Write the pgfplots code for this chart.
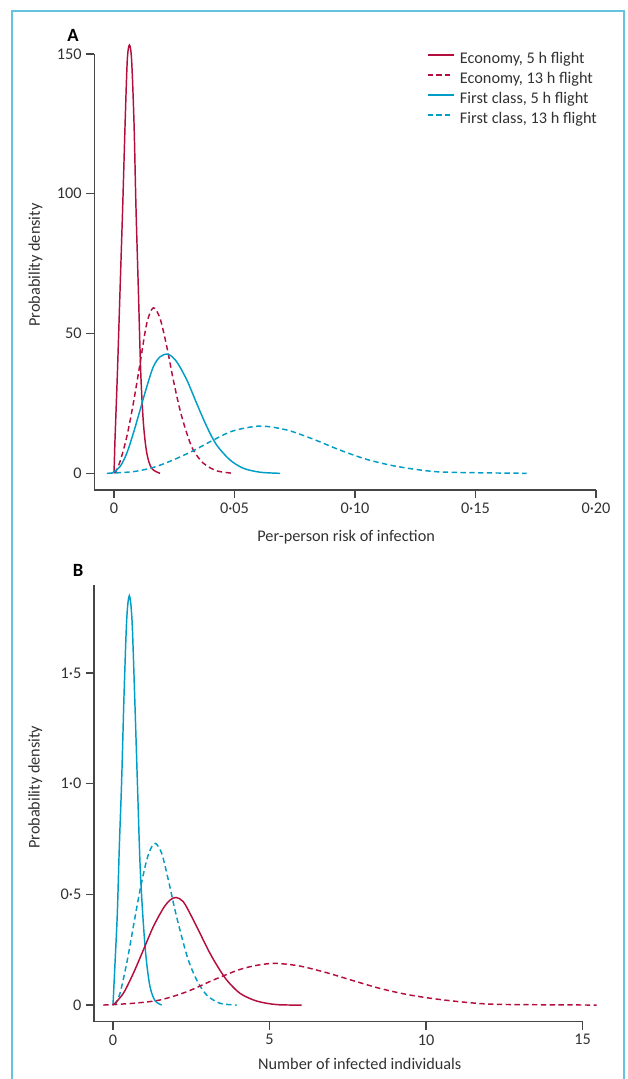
\documentclass[border=0pt]{standalone}
\usepackage{fontspec}
\setmainfont{Carlito}
\usepackage{pgfplots}
\pgfplotsset{compat=1.18}

\definecolor{econ}{RGB}{180,14,62}
\definecolor{first}{RGB}{0,158,198}
\definecolor{framec}{RGB}{100,195,225}
\definecolor{axgray}{RGB}{70,70,70}
\definecolor{txtgray}{RGB}{50,50,50}
\newcommand\lf{\fontsize{12.2pt}{14pt}\selectfont}

\tikzset{dsh/.style={dash pattern=on 4pt off 2.6pt}}
\pgfplotsset{
  panel/.style={
    scale only axis, anchor=south west, clip=false,
    axis lines=left, axis line style={-, line width=1pt, draw=axgray},
    tick align=outside, major tick length=6pt,
    tick style={line width=1pt, draw=axgray},
    tick label style={font=\lf, text=txtgray},
    label style={font=\lf, text=txtgray},
    every axis plot/.append style={line width=1.1pt, smooth, no markers},
  },
}

\begin{document}
\begin{tikzpicture}
\path[use as bounding box] (0,0) rectangle (471pt,-809.25pt);
\draw[framec, line width=1.1pt] (9pt,-820pt) -- (9pt,-8.25pt) -- (468pt,-8.25pt) -- (468pt,-820pt);

\node[font=\bfseries\fontsize{14pt}{16pt}\selectfont, text=black] at (54.75pt,-26.25pt) {A};
\node[font=\bfseries\fontsize{14pt}{16pt}\selectfont, text=black] at (58.5pt,-427.5pt) {B};

% panel A: per-person risk
\begin{axis}[panel,
  at={(70.7pt,-367.5pt)}, width=376.3pt, height=327pt,
  xmin=-0.0082, xmax=0.2, ymin=-5.97, ymax=150,
  xtick={0,0.05,0.1,0.15,0.2}, xticklabels={0,0·05,0·10,0·15,0·20},
  ytick={0,50,100,150}, yticklabels={0,50,100,150},
  xlabel={Per-person risk of infection},
  xlabel style={at={(axis description cs:0.502,0)}, anchor=base, yshift=-38.8pt},
  ylabel={Probability density},
  ylabel style={at={(axis description cs:-0.117,0.516)}, anchor=center},
  legend style={at={(rel axis cs:0.6626,1.003)}, anchor=north west,
    draw=none, fill=none, inner sep=0pt, outer sep=0pt,
    row sep=3.75pt, column sep=4.2pt, font=\lf, text=txtgray,
    nodes={inner sep=0pt, text height=8pt, text depth=3.25pt}},
  legend cell align=left,
  legend image code/.code={\draw[line width=1.2pt, #1] (0pt,4.1pt) -- (19.5pt,4.1pt);},
]
\addplot[draw=econ] coordinates {
 (0,0) (0.0004,11.9) (0.0014,35.8) (0.0025,65.6) (0.0036,95.4) (0.0046,125.2)
 (0.0055,147.8) (0.0064,153.2) (0.0073,147.8) (0.0083,125.2) (0.0091,95.4)
 (0.0101,65.6) (0.0111,35.8) (0.0122,17.9) (0.0136,7.2) (0.0156,1.8) (0.0191,0)
};
\addlegendentry{Economy, 5 h flight}
\addplot[draw=econ, dsh] coordinates {
 (0.0004,0) (0.0025,4.2) (0.0053,13.1) (0.0080,25.0) (0.0108,39.3) (0.0136,53.7)
 (0.0163,59.2) (0.0191,55.4) (0.0219,45.3) (0.0246,33.4) (0.0274,22.6)
 (0.0302,14.3) (0.0329,8.3) (0.0371,3.6) (0.0426,0.9) (0.0495,0)
};
\addlegendentry{Economy, 13 h flight}
\addplot[draw=first] coordinates {
 (-0.001,0) (0.0025,2.4) (0.0053,7.2) (0.0080,14.3) (0.0108,22.6) (0.0136,31.0)
 (0.0163,38.1) (0.0191,41.7) (0.0225,42.6) (0.0260,39.9) (0.0302,33.4)
 (0.0343,25.0) (0.0385,16.7) (0.0426,10.1) (0.0481,4.8) (0.0537,1.8)
 (0.0606,0.4) (0.0689,0)
};
\addlegendentry{First class, 5 h flight}
\addplot[draw=first, dsh] coordinates {
 (-0.003,0) (0.0080,0.6) (0.0163,2.1) (0.0246,4.8) (0.0329,8.1) (0.0412,11.9)
 (0.0495,15.2) (0.0606,16.9) (0.0717,15.5) (0.0827,12.2) (0.0938,8.3)
 (0.1048,5.0) (0.1159,2.7) (0.1270,1.2) (0.1380,0.4) (0.1712,0)
};
\addlegendentry{First class, 13 h flight}
\end{axis}

% panel B: number of infected individuals
\begin{axis}[panel,
  at={(70.5pt,-766.3pt)}, width=366.4pt, height=327.5pt,
  xmin=-0.607, xmax=15, ymin=-0.0754, ymax=1.897,
  xtick={0,5,10,15}, xticklabels={0,5,10,15},
  ytick={0,0.5,1,1.5}, yticklabels={0,0·5,1·0,1·5},
  xlabel={Number of infected individuals},
  xlabel style={at={(axis description cs:0.544,0)}, anchor=base, yshift=-35.7pt},
  ylabel={Probability density},
  ylabel style={at={(axis description cs:-0.120,0.537)}, anchor=center},
]
\addplot[draw=first] coordinates {
 (0,0) (0.064,0.188) (0.138,0.414) (0.202,0.715) (0.277,1.016) (0.351,1.393)
 (0.437,1.739) (0.521,1.849) (0.607,1.739) (0.693,1.393) (0.777,1.016)
 (0.863,0.640) (0.948,0.414) (1.054,0.218) (1.182,0.083) (1.342,0.020) (1.556,0)
};
\addplot[draw=first, dsh] coordinates {
 (0.064,0) (0.224,0.053) (0.437,0.188) (0.649,0.354) (0.863,0.519) (1.077,0.655)
 (1.236,0.715) (1.364,0.730) (1.556,0.685) (1.768,0.565) (1.981,0.429)
 (2.194,0.309) (2.407,0.203) (2.674,0.113) (2.994,0.045) (3.419,0.008) (3.952,0)
};
\addplot[draw=econ] coordinates {
 (0.01,0) (0.330,0.053) (0.649,0.143) (0.968,0.248) (1.288,0.354) (1.607,0.437)
 (1.821,0.474) (2.013,0.486) (2.246,0.467) (2.514,0.399) (2.780,0.324)
 (3.045,0.248) (3.313,0.181) (3.633,0.113) (4.058,0.053) (4.591,0.018)
 (5.230,0.002) (6.029,0)
};
\addplot[draw=econ, dsh] coordinates {
 (-0.31,0) (0.649,0.008) (1.502,0.023) (2.355,0.060) (3.205,0.113) (4.058,0.161)
 (4.697,0.182) (5.23,0.188) (5.975,0.176) (6.828,0.146) (7.678,0.110)
 (8.531,0.075) (9.384,0.048) (10.23,0.029) (11.30,0.012) (12.36,0.003) (15.45,0)
};
\end{axis}
\end{tikzpicture}
\end{document}
